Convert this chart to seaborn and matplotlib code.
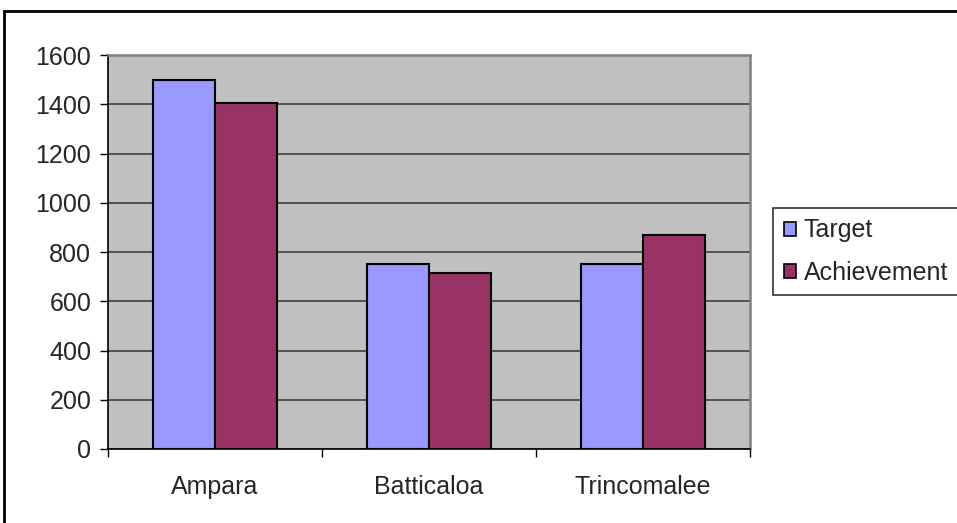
import matplotlib
matplotlib.use("Agg")
import matplotlib.pyplot as plt
import seaborn as sns
import pandas as pd
from matplotlib.patches import Rectangle, Patch

categories = ["Ampara", "Batticaloa", "Trincomalee"]
target = [1500, 750, 750]
achievement = [1405, 715, 870]
series_names = ["Target", "Achievement"]
y_ticks = [0, 200, 400, 600, 800, 1000, 1200, 1400, 1600]

df = pd.DataFrame({
    "District": categories * 2,
    "Value": target + achievement,
    "Series": [series_names[0]] * 3 + [series_names[1]] * 3,
})

sns.set_theme(style="white")
plt.rcParams['font.family'] = ['Liberation Sans', 'DejaVu Sans']

colors = {"Target": "#9999FF", "Achievement": "#993366"}
FS = 18

fig = plt.figure(figsize=(9.57, 5.23), dpi=100)
ax = fig.add_axes([108/957, 1-449/523, (750-108)/957, (449-55)/523])
ax.set_facecolor("#C0C0C0")

sns.barplot(data=df, x="District", y="Value", hue="Series", palette=colors,
            order=categories, hue_order=series_names, width=0.575, gap=0,
            saturation=1, edgecolor="black", linewidth=1.5, ax=ax,
            legend=False, zorder=3)

ax.set_xlim(-0.5, 2.5)
ax.set_ylim(0, 1600)
ax.set_yticks(y_ticks)
ax.set_yticklabels([str(v) for v in y_ticks], fontsize=FS)
ax.yaxis.grid(True, color="#404040", linewidth=1.2, zorder=1)
ax.set_axisbelow(True)
ax.set_xlabel("")
ax.set_ylabel("")

ax.set_xticks([0, 1, 2])
ax.set_xticklabels(categories, fontsize=FS)
ax.set_xticks([-0.5, 0.5, 1.5, 2.5], minor=True)
ax.tick_params(axis="x", which="major", length=0, pad=19)
ax.tick_params(axis="x", which="minor", length=6, width=1, color="black", direction="out", bottom=True)
ax.tick_params(axis="y", which="major", length=6, width=1, color="black", direction="out", left=True, pad=6)

for s in ["left", "bottom"]:
    ax.spines[s].set_color("black")
    ax.spines[s].set_linewidth(1.2)
for s in ["top", "right"]:
    ax.spines[s].set_color("#808080")
    ax.spines[s].set_linewidth(1.8)

handles = [Patch(facecolor=colors[n], edgecolor="black", linewidth=1.2, label=n) for n in series_names]
leg = fig.legend(handles=handles, loc="upper left", bbox_to_anchor=(773/957, 1-208/523),
                 fontsize=FS, frameon=True, fancybox=False, shadow=False,
                 handlelength=0.5, handleheight=0.5, handletextpad=0.3,
                 labelspacing=0.72, borderpad=0.42, borderaxespad=0)
leg.get_frame().set_edgecolor("black")
leg.get_frame().set_linewidth(1.2)

# outer chart frame (cropped at right and bottom)
fig.patches.append(Rectangle((4/957, -0.1), 1.2, 1 - 11/523 + 0.1,
                             transform=fig.transFigure, fill=False,
                             edgecolor="black", linewidth=2, zorder=0))

fig.savefig("out.png", dpi=100)
